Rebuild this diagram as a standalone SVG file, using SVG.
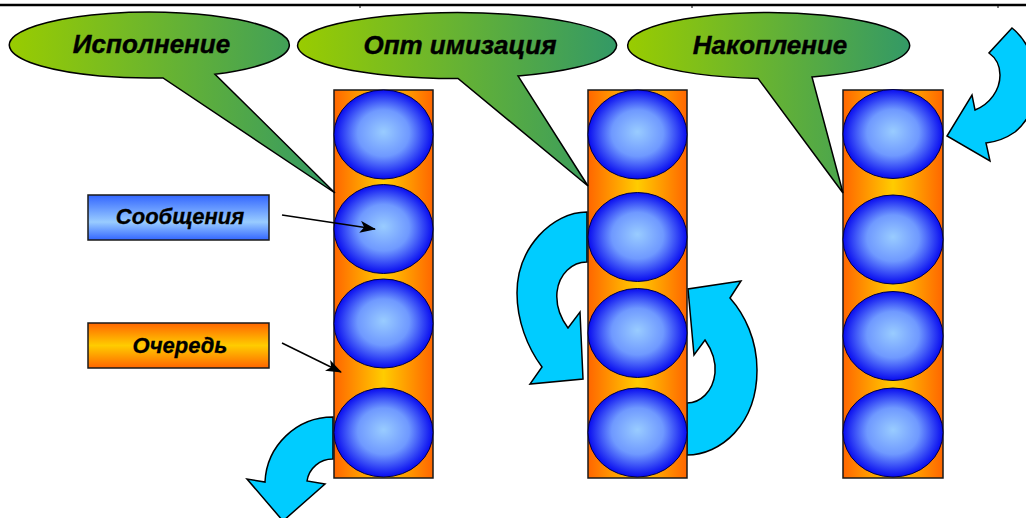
<svg xmlns="http://www.w3.org/2000/svg" width="1026" height="518" viewBox="0 0 1026 518">
<defs>
<style>
.ttl{font-family:"Liberation Sans",Arial,sans-serif;font-weight:bold;font-style:italic;font-size:26px;fill:#000;stroke:#000;stroke-width:0.4;text-anchor:middle}
.lbl{font-family:"Liberation Sans",Arial,sans-serif;font-weight:bold;font-style:italic;font-size:22px;fill:#000;stroke:#000;stroke-width:0.3;text-anchor:middle}
.callout{fill:url(#gGreen);stroke:#000;stroke-width:1.5}
.col{fill:url(#gOrangeH);stroke:#1a1a1a;stroke-width:1.5}
.ball{fill:url(#gBall);stroke:#000044;stroke-width:1}
.cyan{fill:#00ccff;stroke:#000;stroke-width:1.5;stroke-linejoin:miter}
.conn{stroke:#000;stroke-width:1.5;fill:none;marker-end:url(#ah)}
</style>
<linearGradient id="gGreen" x1="0" y1="0" x2="1" y2="0">
<stop offset="0" stop-color="#99cc00"/>
<stop offset="1" stop-color="#339966"/>
</linearGradient>
<linearGradient id="gOrangeH" x1="0" y1="0" x2="1" y2="0">
<stop offset="0" stop-color="#ff6600"/>
<stop offset="0.5" stop-color="#ffcc00"/>
<stop offset="1" stop-color="#ff6600"/>
</linearGradient>
<linearGradient id="gOrangeV" x1="0" y1="0" x2="0" y2="1">
<stop offset="0" stop-color="#ff6600"/>
<stop offset="0.5" stop-color="#ffcc00"/>
<stop offset="1" stop-color="#ff6600"/>
</linearGradient>
<linearGradient id="gBlueV" x1="0" y1="0" x2="0" y2="1">
<stop offset="0" stop-color="#3366ff"/>
<stop offset="0.6" stop-color="#99ccff"/>
<stop offset="1" stop-color="#3366ff"/>
</linearGradient>
<radialGradient id="gBall" cx="0.5" cy="0.5" r="0.52" fx="0.5" fy="0.47">
<stop offset="0" stop-color="#99ccff"/>
<stop offset="0.5" stop-color="#6f99ff"/>
<stop offset="1" stop-color="#0000ee"/>
</radialGradient>
<marker id="ah" viewBox="0 0 16 12" refX="15" refY="6" markerWidth="16" markerHeight="12" markerUnits="userSpaceOnUse" orient="auto">
<path d="M0,0 L16,6 L0,12 L4,6 Z" fill="#000"/>
</marker>
</defs>

<g id="top-rule">
<line x1="0" y1="5" x2="1026" y2="5" stroke="#000" stroke-width="2.5"/>
<line x1="360" y1="6" x2="360" y2="8" stroke="#000" stroke-width="1"/>
<line x1="692" y1="6" x2="692" y2="8" stroke="#000" stroke-width="1"/>
<line x1="998" y1="6" x2="998" y2="8" stroke="#000" stroke-width="1"/>
</g>

<g id="flow-arrows">
<path id="flow-out" class="cyan" d="M333,417 A68,68 0 0,0 265,482 L247,479 L283,521 L325,484 L307,481 A26,26 0 0,1 333,459 Z"/>
<path id="flow-opt-left" class="cyan" d="M587,212 C552,212 517,248 517,293 C517,320 527,347 542,367 L530,384 L583,379 L580,312 L568,328 C559,316 556,303 557,292 C559,274 572,262 587,262 Z"/>
<path id="flow-opt-right" class="cyan" d="M687,455 C720,455 757,425 757,370 C757,340 745,315 730,298 L741,281 L688,289 L694,355 L705,340 C712,350 716,362 715,373 C713,392 700,403 687,403 Z"/>
<path id="flow-in" class="cyan" d="M1012,28 C1040,50 1048,105 1015,132 C1005,139 995,142 986,143 L990,161 L947,136 L972,95 L975,110 C990,104 1000,90 1000,75 C1000,66 996,58 989,53 Z"/>
</g>

<g id="queue-1">
<rect class="col" x="334" y="90" width="99" height="388"/>
<ellipse class="ball" cx="383.5" cy="134.5" rx="49.5" ry="44.5"/>
<ellipse class="ball" cx="383.5" cy="229" rx="49.5" ry="44.5"/>
<ellipse class="ball" cx="383.5" cy="323.5" rx="49.5" ry="44.5"/>
<ellipse class="ball" cx="383.5" cy="432.5" rx="49.5" ry="44.5"/>
</g>
<g id="queue-2">
<rect class="col" x="588" y="90" width="99" height="388"/>
<ellipse class="ball" cx="637.5" cy="134.5" rx="49.5" ry="44.5"/>
<ellipse class="ball" cx="637.5" cy="237" rx="49.5" ry="44.5"/>
<ellipse class="ball" cx="637.5" cy="333" rx="49.5" ry="44.5"/>
<ellipse class="ball" cx="637.5" cy="432.5" rx="49.5" ry="44.5"/>
</g>
<g id="queue-3">
<rect class="col" x="843" y="90" width="100" height="388"/>
<ellipse class="ball" cx="893" cy="134" rx="50" ry="44.5"/>
<ellipse class="ball" cx="893" cy="239.5" rx="50" ry="44.5"/>
<ellipse class="ball" cx="893" cy="336" rx="50" ry="44.5"/>
<ellipse class="ball" cx="893" cy="432.5" rx="50" ry="44.5"/>
</g>

<g id="callout-ispolnenie">
<path class="callout" d="M163,77.9 A140,33 0 1,1 215,74.2 L335,193 Z"/>
<text class="ttl" x="151.5" y="53">Исполнение</text>
</g>
<g id="callout-optimizatsiya">
<path class="callout" d="M458,78.5 A159.5,33 0 1,1 518,76 L588,186 Z"/>
<text class="ttl" x="460" y="54">Опт имизация</text>
</g>
<g id="callout-nakoplenie">
<path class="callout" d="M758,78.4 A141,33 0 1,1 812,76.9 L843,193 Z"/>
<text class="ttl" x="770" y="54">Накопление</text>
</g>

<g id="label-soobshcheniya">
<rect x="88" y="195" width="181" height="45" fill="url(#gBlueV)" stroke="#1a1a1a" stroke-width="1.5"/>
<text class="lbl" x="180" y="224">Сообщения</text>
</g>
<g id="label-ochered">
<rect x="88" y="323" width="181" height="45" fill="url(#gOrangeV)" stroke="#1a1a1a" stroke-width="1.5"/>
<text class="lbl" x="180" y="353">Очередь</text>
</g>

<g id="connectors">
<line class="conn" x1="282" y1="215" x2="375" y2="229"/>
<line class="conn" x1="282" y1="343" x2="341" y2="372"/>
</g>
</svg>
